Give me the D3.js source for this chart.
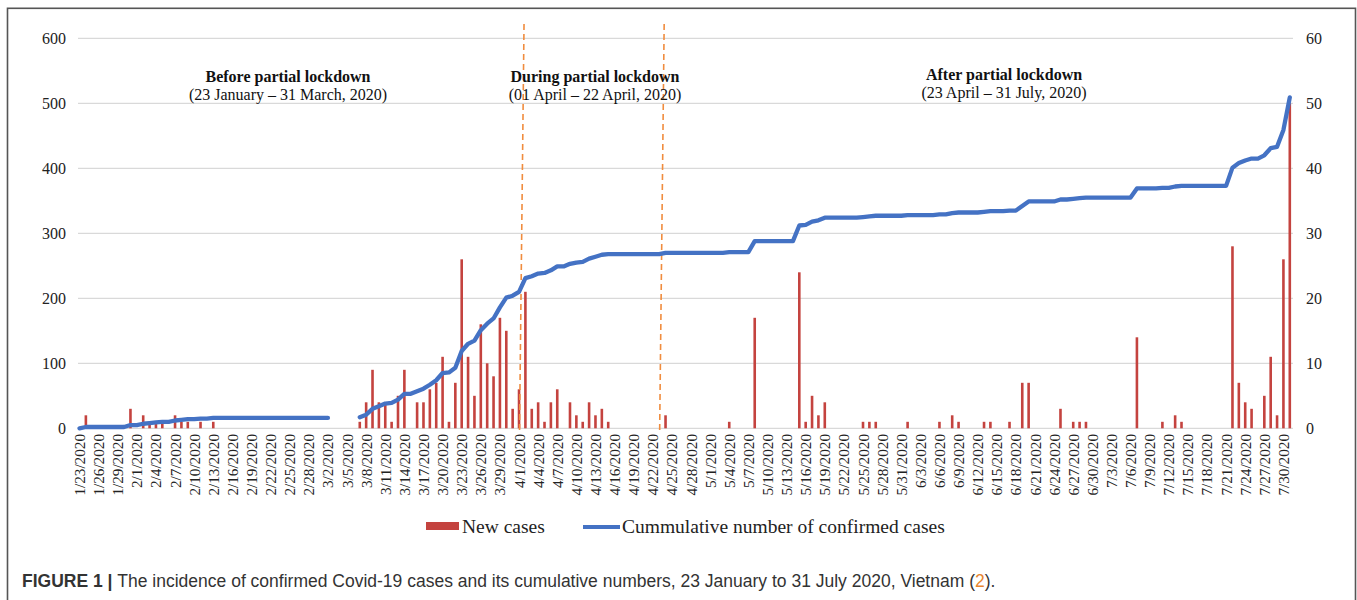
<!DOCTYPE html>
<html lang="en">
<head>
<meta charset="utf-8" />
<title>Covid-19 cases, Vietnam</title>
<script src="https://cdn.jsdelivr.net/npm/d3@7"></script>
<style>
  html, body { margin: 0; background: #fff; }
  svg { display: block; }
</style>
</head>
<body>
<script>
// Day-by-day categories: 23 January to 31 July 2020
const firstDay = "1/23/2020";
const lastDay = "7/31/2020";

// Cumulative confirmed cases, one value per day (null = no data, gap in line)
const cumulative = [
  0, 2, 2, 2, 2, 2, 2, 2, 5, 5,
  7, 8, 9, 10, 10, 12, 13, 14, 14, 15,
  15, 16, 16, 16, 16, 16, 16, 16, 16, 16,
  16, 16, 16, 16, 16, 16, 16, 16, 16, 16,
  null, null, null, null, 17, 21, 30, 34, 38, 39,
  44, 53, 53, 57, 61, 67, 74, 85, 86, 93,
  119, 130, 135, 151, 161, 169, 186, 201, 204, 210,
  231, 234, 238, 239, 243, 249, 249, 253, 255, 256,
  261, 264, 267, 268, 268, 268, 268, 268, 268, 268,
  268, 268, 270, 270, 270, 270, 270, 270, 270, 270,
  270, 270, 271, 271, 271, 271, 288, 288, 288, 288,
  288, 288, 288, 312, 313, 318, 320, 324, 324, 324,
  324, 324, 324, 325, 326, 327, 327, 327, 327, 327,
  328, 328, 328, 328, 328, 329, 329, 331, 332, 332,
  332, 332, 333, 334, 334, 334, 335, 335, 342, 349,
  349, 349, 349, 349, 352, 352, 353, 354, 355, 355,
  355, 355, 355, 355, 355, 355, 369, 369, 369, 369,
  370, 370, 372, 373, 373, 373, 373, 373, 373, 373,
  373, 401, 408, 412, 415, 415, 420, 431, 433, 459, 509
];

// New cases (days without a bar are zero)
const newCases = [
  ["1/24/2020", 2], ["1/31/2020", 3], ["2/2/2020", 2], ["2/3/2020", 1], ["2/4/2020", 1],
  ["2/5/2020", 1], ["2/7/2020", 2], ["2/8/2020", 1], ["2/9/2020", 1], ["2/11/2020", 1],
  ["2/13/2020", 1],
  ["3/7/2020", 1], ["3/8/2020", 4], ["3/9/2020", 9], ["3/10/2020", 4], ["3/11/2020", 4],
  ["3/12/2020", 1], ["3/13/2020", 5], ["3/14/2020", 9], ["3/16/2020", 4], ["3/17/2020", 4],
  ["3/18/2020", 6], ["3/19/2020", 7], ["3/20/2020", 11], ["3/21/2020", 1], ["3/22/2020", 7],
  ["3/23/2020", 26], ["3/24/2020", 11], ["3/25/2020", 5], ["3/26/2020", 16], ["3/27/2020", 10],
  ["3/28/2020", 8], ["3/29/2020", 17], ["3/30/2020", 15], ["3/31/2020", 3], ["4/1/2020", 6],
  ["4/2/2020", 21], ["4/3/2020", 3], ["4/4/2020", 4], ["4/5/2020", 1], ["4/6/2020", 4],
  ["4/7/2020", 6], ["4/9/2020", 4], ["4/10/2020", 2], ["4/11/2020", 1], ["4/12/2020", 4],
  ["4/13/2020", 2], ["4/14/2020", 3], ["4/15/2020", 1],
  ["4/24/2020", 2], ["5/4/2020", 1], ["5/8/2020", 17], ["5/15/2020", 24], ["5/16/2020", 1],
  ["5/17/2020", 5], ["5/18/2020", 2], ["5/19/2020", 4], ["5/25/2020", 1], ["5/26/2020", 1],
  ["5/27/2020", 1], ["6/1/2020", 1], ["6/6/2020", 1], ["6/8/2020", 2], ["6/9/2020", 1],
  ["6/13/2020", 1], ["6/14/2020", 1], ["6/17/2020", 1], ["6/19/2020", 7], ["6/20/2020", 7],
  ["6/25/2020", 3], ["6/27/2020", 1], ["6/28/2020", 1], ["6/29/2020", 1], ["7/7/2020", 14],
  ["7/11/2020", 1], ["7/13/2020", 2], ["7/14/2020", 1], ["7/22/2020", 28], ["7/23/2020", 7],
  ["7/24/2020", 4], ["7/25/2020", 3], ["7/27/2020", 5], ["7/28/2020", 11], ["7/29/2020", 2],
  ["7/30/2020", 26], ["7/31/2020", 50]
];

const leftTicks = [0, 100, 200, 300, 400, 500, 600];
const rightTicks = [0, 10, 20, 30, 40, 50, 60];

// Lockdown boundaries (orange dashed lines)
const lockdownDates = ["4/1/2020", "4/23/2020"];
const phases = [
  { title: "Before partial lockdown", sub: "(23 January \u2013 31 March, 2020)" },
  { title: "During partial lockdown", sub: "(01 April \u2013 22 April, 2020)" },
  { title: "After partial lockdown", sub: "(23 April \u2013 31 July, 2020)" }
];
const phaseLabelPos = [[288, 82], [595, 82], [1004, 80]];

const W = 1357, H = 600;
const SERIF = "'Liberation Serif', 'Times New Roman', serif";
const RED = "#C4433F", BLUE = "#4472C4", ORANGE = "#F08C3E";

const parse = d3.timeParse("%m/%d/%Y");
const fmt = d3.timeFormat("%-m/%-d/%Y");
const days = d3.timeDay.range(parse(firstDay), d3.timeDay.offset(parse(lastDay), 1));
const keys = days.map(fmt);

const svg = d3.select("body").append("svg")
  .attr("width", W).attr("height", H)
  .style("font-family", SERIF);

// figure frame
svg.append("rect")
  .attr("x", 7.5).attr("y", 8.3).attr("width", 1348).attr("height", 640)
  .attr("fill", "none").attr("stroke", "#555").attr("stroke-width", 1.6);

const x = d3.scalePoint().domain(keys).range([79.5, 1289.8]);
const yL = d3.scaleLinear().domain([0, 600]).range([428.3, 38.3]);
const yR = d3.scaleLinear().domain([0, 60]).range([428.3, 38.3]);
const gridX0 = 78, gridX1 = 1293;

// gridlines
svg.append("g").selectAll("line").data(leftTicks).join("line")
  .attr("x1", gridX0).attr("x2", gridX1)
  .attr("y1", d => yL(d)).attr("y2", d => yL(d))
  .attr("stroke", "#d9d9d9").attr("stroke-width", 1.2);

// left axis labels
svg.append("g").selectAll("text").data(leftTicks).join("text")
  .attr("x", 66).attr("y", d => yL(d))
  .attr("text-anchor", "end").attr("dominant-baseline", "central")
  .attr("font-size", 16).attr("fill", "#222")
  .text(d => d);

// right axis labels
svg.append("g").selectAll("text").data(rightTicks).join("text")
  .attr("x", 1306).attr("y", d => yR(d))
  .attr("text-anchor", "start").attr("dominant-baseline", "central")
  .attr("font-size", 16).attr("fill", "#222")
  .text(d => d);

// date labels, every third day
svg.append("g").selectAll("text").data(keys.filter((d, i) => i % 3 === 0)).join("text")
  .attr("transform", d => `translate(${x(d)},434) rotate(-90)`)
  .attr("text-anchor", "end").attr("dominant-baseline", "central")
  .attr("font-size", 15.2).attr("fill", "#222")
  .text(d => d);

// new cases bars (right axis)
const barW = 2.6;
svg.append("g").selectAll("rect").data(newCases).join("rect")
  .attr("x", d => x(d[0]) - barW / 2)
  .attr("y", d => yR(d[1]))
  .attr("width", barW)
  .attr("height", d => yR(0) - yR(d[1]))
  .attr("fill", RED);

// lockdown markers
svg.append("g").selectAll("line").data(lockdownDates).join("line")
  .attr("x1", d => x(d) + 5).attr("y1", 24)
  .attr("x2", d => x(d) + 0.5).attr("y2", 430)
  .attr("stroke", ORANGE).attr("stroke-width", 1.6)
  .attr("stroke-dasharray", "6,4");

// cumulative line (left axis)
const line = d3.line()
  .defined(d => d != null)
  .x((d, i) => x(keys[i]))
  .y(d => yL(d));
svg.append("path")
  .datum(cumulative)
  .attr("d", line)
  .attr("fill", "none").attr("stroke", BLUE)
  .attr("stroke-width", 4.3).attr("stroke-linejoin", "round").attr("stroke-linecap", "round");

// phase annotations
const ph = svg.append("g").selectAll("g").data(phases).join("g")
  .attr("transform", (d, i) => `translate(${phaseLabelPos[i][0]},${phaseLabelPos[i][1]})`)
  .attr("text-anchor", "middle").attr("fill", "#111");
ph.append("text").attr("font-size", 16).attr("font-weight", "bold").text(d => d.title);
ph.append("text").attr("y", 18).attr("font-size", 16).text(d => d.sub);

// legend
const lg = svg.append("g").attr("font-size", 19.5).attr("fill", "#222");
lg.append("rect").attr("x", 426).attr("y", 522).attr("width", 33).attr("height", 8).attr("fill", RED);
lg.append("text").attr("x", 462).attr("y", 526).attr("dominant-baseline", "central").text("New cases");
lg.append("line").attr("x1", 583).attr("x2", 620).attr("y1", 527).attr("y2", 527)
  .attr("stroke", BLUE).attr("stroke-width", 4);
lg.append("text").attr("x", 622).attr("y", 526).attr("dominant-baseline", "central")
  .text("Cummulative number of confirmed cases");

// caption
const cap = svg.append("text")
  .attr("x", 22).attr("y", 587)
  .attr("font-family", "'Liberation Sans', Arial, sans-serif")
  .attr("font-size", 17.5).attr("fill", "#333");
cap.append("tspan").attr("font-weight", "bold").text("FIGURE 1 | ");
cap.append("tspan").text("The incidence of confirmed Covid-19 cases and its cumulative numbers, 23 January to 31 July 2020, Vietnam (");
cap.append("tspan").attr("fill", "#E8862E").text("2");
cap.append("tspan").text(").");
</script>
</body>
</html>
